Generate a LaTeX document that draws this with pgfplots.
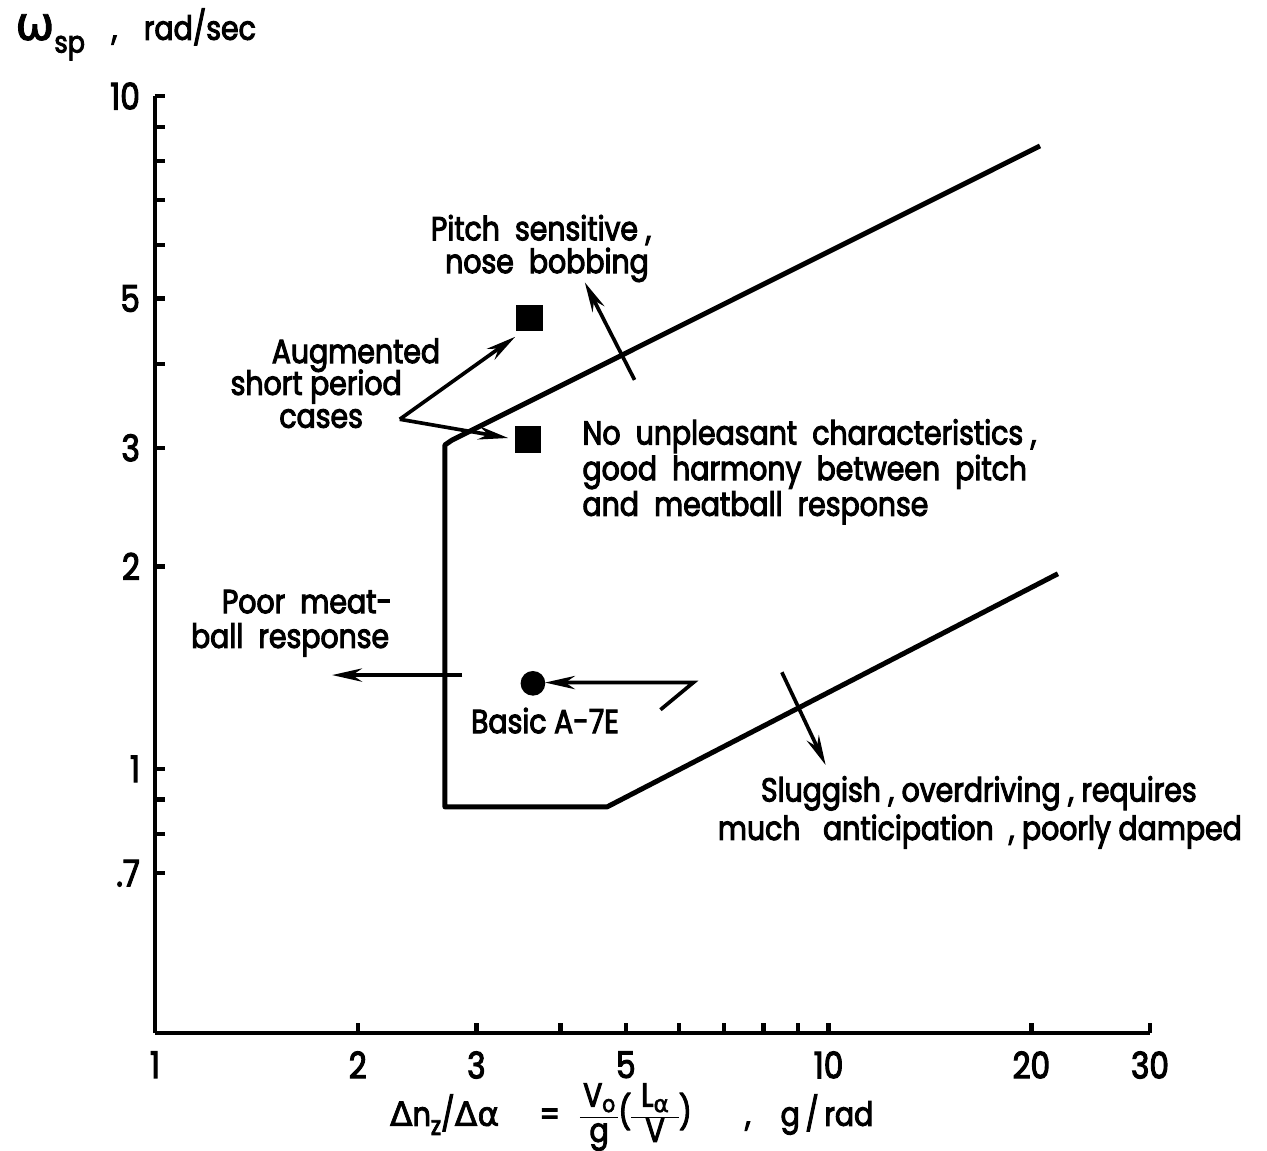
\documentclass[border=0pt]{standalone}
\usepackage{fontspec}
\setmainfont{Poppins}[FakeStretch=0.85, FakeBold=3]
\newfontfamily\greek{DejaVu Sans}[FakeBold=2]
\usepackage{pgfplots}
\pgfplotsset{compat=1.18}
\usetikzlibrary{arrows.meta}

\begin{document}
\begin{tikzpicture}[font=\fontsize{10pt}{12pt}\selectfont,
  arr/.style={-{Stealth[length=9pt,width=4pt]}, line width=1.1pt}]
\path[use as bounding box] (-46.5pt,-35.4pt) rectangle (333.6pt,309.9pt);
\begin{axis}[
  at={(0,0)}, anchor=south west,
  scale only axis, width=298.5pt, height=281.1pt,
  xmode=log, ymode=log,
  xmin=1, xmax=30, ymin=0.405, ymax=10,
  axis x line=bottom, axis y line=left,
  axis line style={-, line width=1.3pt},
  tick align=inside,
  major tick length=3pt,
  tick style={line width=1.3pt, black},
  xtick={1,2,3,4,5,6,7,8,9,10,20,30},
  xticklabels={1,2,3,,5,,,,,10,20,30},
  ytick={0.7,0.8,0.9,1,2,3,4,5,6,7,8,9,10},
  yticklabels={.7,,,1,2,3,,5,,,,,10},
  minor xtick={}, minor ytick={},
  clip=false,
  /pgf/number format/assume math mode=true,
  ticklabel style={font=\fontsize{11pt}{13pt}\selectfont},
  xticklabel style={yshift=-2pt},
  yticklabel style={xshift=-1pt},
]
% boundary
\addplot[line width=1.5pt, black, line join=round] coordinates {
  (20.6,8.43) (2.76,3.08) (2.694,3.03) (2.694,0.878) (4.69,0.878) (21.9,1.95)};
% augmented short period cases
\addplot[only marks, mark=square*, mark size=3.8pt, black,
  mark options={rounded corners=1.2pt}] coordinates {(3.60,4.68) (3.58,3.09)};
% basic A-7E
\addplot[only marks, mark=*, mark size=3.5pt, black] coordinates {(3.64,1.34)};

% arrows
\draw[arr] (rel axis cs:0.246,0.655) -- (rel axis cs:0.362,0.743);
\draw[arr] (rel axis cs:0.246,0.655) -- (rel axis cs:0.355,0.635);
\draw[arr] (rel axis cs:0.482,0.697) -- (rel axis cs:0.432,0.801);
\draw[arr] (rel axis cs:0.309,0.382) -- (rel axis cs:0.178,0.382);
\draw[arr] (rel axis cs:0.508,0.345) -- (rel axis cs:0.541,0.374) -- (rel axis cs:0.392,0.374);
\draw[arr] (rel axis cs:0.630,0.385) -- (rel axis cs:0.674,0.286);

% texts
\node[anchor=base] at (rel axis cs:0.388,0.846) {Pitch\ \ sensitive ,};
\node[anchor=base] at (rel axis cs:0.394,0.811) {nose\ \ bobbing};
\node[anchor=base] at (rel axis cs:0.202,0.715) {Augmented};
\node[anchor=base] at (rel axis cs:0.162,0.681) {short period};
\node[anchor=base] at (rel axis cs:0.167,0.646) {cases};
\node[anchor=base west, inner sep=0pt] at (rel axis cs:0.429,0.628) {No\ \ unpleasant\ \ characteristics ,};
\node[anchor=base west, inner sep=0pt] at (rel axis cs:0.429,0.590) {good\ \ harmony\ \ between\ \ pitch};
\node[anchor=base west, inner sep=0pt] at (rel axis cs:0.429,0.552) {and\ \ meatball\ \ response};
\node[anchor=base east, inner sep=0pt] at (rel axis cs:0.239,0.448) {Poor\ \ meat-};
\node[anchor=base east, inner sep=0pt] at (rel axis cs:0.236,0.411) {ball\ \ response};
\node[anchor=base west, inner sep=0pt] at (rel axis cs:0.317,0.320) {Basic A-7E};
\node[anchor=base] at (rel axis cs:0.828,0.247) {Sluggish\ , overdriving\ , requires};
\node[anchor=base] at (rel axis cs:0.829,0.206) {much\ \ \ anticipation\ \ , poorly\ damped};
\node[anchor=base west, inner sep=0pt] at (rel axis cs:-0.141,1.060)
  {{\greek\fontsize{14pt}{16pt}\selectfont ω}\raisebox{-0.7ex}{\fontsize{9pt}{10pt}\selectfont sp}\hspace{8pt},\hspace{8pt}rad/sec};
\node[anchor=base, inner sep=0pt] at (rel axis cs:0.479,-0.099)
  {{\greek Δ}n\raisebox{-0.5ex}{\fontsize{8pt}{9pt}\selectfont z}/{\greek Δα}\hspace{12pt}=\hspace{6pt}%
   {\renewcommand\arraystretch{0.85}\setlength\tabcolsep{1pt}\begin{tabular}{c}V\raisebox{-0.3ex}{\fontsize{7pt}{8pt}\selectfont o}\\\hline g\end{tabular}}%
   \raisebox{0.1ex}{(}{\renewcommand\arraystretch{0.85}\setlength\tabcolsep{3pt}\begin{tabular}{c}L\raisebox{-0.3ex}{\fontsize{7pt}{8pt}\selectfont\greek α}\\\hline V\end{tabular}}\raisebox{0.1ex}{)}%
   \hspace{16pt},\hspace{9pt}g\,/\,rad};
\end{axis}
\end{tikzpicture}
\end{document}
